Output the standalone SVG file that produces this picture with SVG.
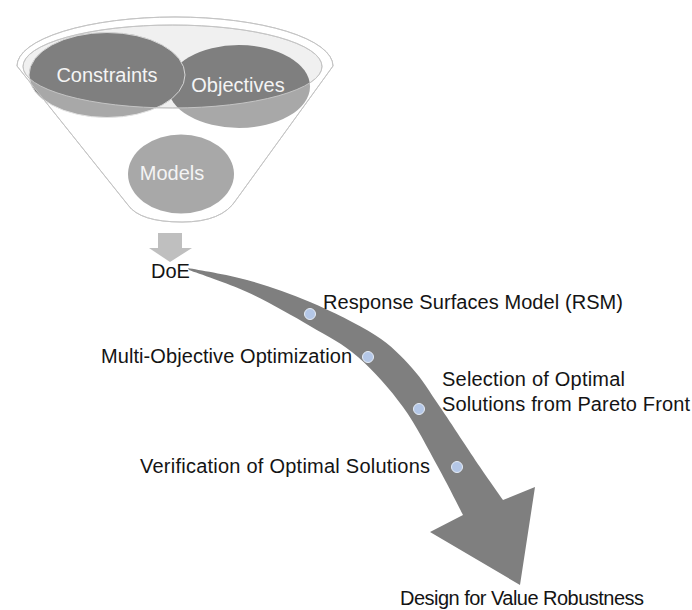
<svg xmlns="http://www.w3.org/2000/svg" width="692" height="610" viewBox="0 0 692 610">
  <style>
    .lbl { font-family: "Liberation Sans", Arial, sans-serif; font-size: 20px; fill: #141414; }
    .in { font-family: "Liberation Sans", Arial, sans-serif; font-size: 20px; fill: #f4f4f4; text-anchor: middle; }
    .rim { fill: none; stroke: #c4c4c4; stroke-width: 1; }
    .blob { fill: #7f7f7f; }
    .dot { fill: #b4c7e7; stroke: #e6edf7; stroke-width: 1; }
    .flow { fill: #7f7f7f; }
  </style>
  <defs>
    <path id="funnelShape" d="M17,66 A158,49 0 0 1 333,66 L236,200 Q222,222 182,222 Q140,222 128,205 Z"/>
  </defs>

  <rect width="692" height="610" fill="#ffffff"/>

  <!-- Funnel with its three inputs -->
  <g id="funnel">
    <use href="#funnelShape" fill="#ffffff" stroke="#c4c4c4" stroke-width="1"/>
    <ellipse cx="172.5" cy="66.5" rx="149.5" ry="41.5" fill="#f0f0f0" stroke="#c4c4c4" stroke-width="1"/>
  </g>

  <g id="objectives">
    <ellipse class="blob" cx="239" cy="86.5" rx="71" ry="41.5"/>
  </g>

  <g id="constraints">
    <ellipse class="blob" cx="107" cy="75" rx="78" ry="42.5" stroke="#d6d6d6" stroke-width="1"/>
  </g>

  <g id="models">
    <ellipse class="blob" cx="181" cy="174" rx="53" ry="39.5"/>
  </g>

  <!-- translucent front face of the funnel, below the rim -->
  <path fill="#ffffff" fill-opacity="0.32" fill-rule="evenodd"
        d="M17,66 A158,49 0 0 1 333,66 L236,200 Q222,222 182,222 Q140,222 128,205 Z
           M23,66.5 A149.5,41.5 0 0 0 322,66.5 A149.5,41.5 0 0 0 23,66.5 Z"/>
  <use href="#funnelShape" class="rim"/>
  <ellipse class="rim" cx="172.5" cy="66.5" rx="149.5" ry="41.5"/>

  <text class="in" x="107" y="82">Constraints</text>
  <text class="in" x="238" y="92">Objectives</text>
  <text class="in" x="172" y="180">Models</text>

  <!-- Connectors -->
  <g id="connectors">
    <polygon fill="#bfbfbf" points="158,233 182,233 182,248 192,248 170,262 149,248 158,248"/>
    <path class="flow" d="M188,268
      C197.8,270 226.7,274.3 247,280
      C267.3,285.7 288.7,292.8 310,302
      C331.3,311.2 358,324 375,335
      C392,346 401.2,356 412,368
      C422.8,380 428.7,390.5 440,407
      C451.3,423.5 469.5,451.5 480,467
      C490.5,482.5 499.2,494.5 503,500
      L535,487 L520,585 L430,532 L463,515
      C458.8,507 448,485 438,467
      C428,449 416.3,425.3 403,407
      C389.7,388.7 373.5,370.5 358,357
      C342.5,343.5 328.5,336.8 310,326
      C291.5,315.2 267.2,301.3 247,292
      C226.8,282.7 198.7,273.7 189,270 Z"/>
  </g>

  <g id="doe">
    <text class="lbl" x="151" y="278" font-size="19">DoE</text>
  </g>

  <g id="rsm">
    <circle class="dot" cx="310" cy="314" r="5.5"/>
    <text class="lbl" x="323" y="309" textLength="300">Response Surfaces Model (RSM)</text>
  </g>

  <g id="moo">
    <circle class="dot" cx="368" cy="357" r="5.5"/>
    <text class="lbl" x="101" y="363" textLength="251">Multi-Objective Optimization</text>
  </g>

  <g id="selection">
    <circle class="dot" cx="419" cy="409" r="5.5"/>
    <text class="lbl" x="442" y="386" textLength="183">Selection of Optimal</text>
    <text class="lbl" x="442" y="411" textLength="248">Solutions from Pareto Front</text>
  </g>

  <g id="verification">
    <circle class="dot" cx="457" cy="467" r="5.5"/>
    <text class="lbl" x="140" y="473" textLength="290">Verification of Optimal Solutions</text>
  </g>

  <g id="design">
    <text class="lbl" x="400" y="605" textLength="244">Design for Value Robustness</text>
  </g>
</svg>
